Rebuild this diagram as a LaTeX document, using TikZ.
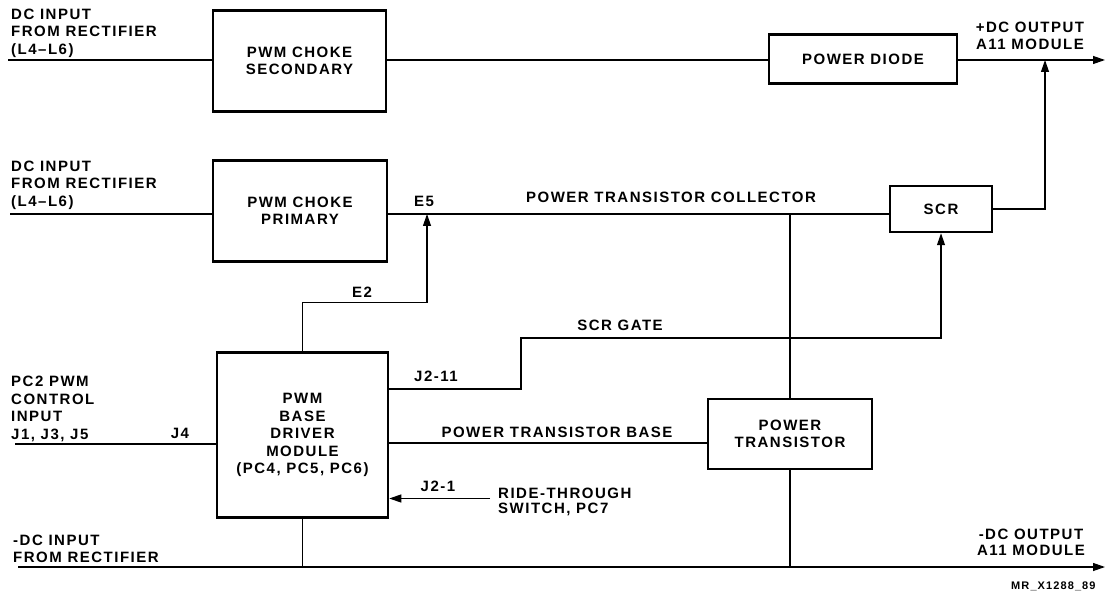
\documentclass[tikz,border=0pt]{standalone}
\usepackage{fontspec}
\setmainfont{Liberation Sans}[LetterSpace=10]
\usetikzlibrary{arrows.meta,calc}
\begin{document}
\begin{tikzpicture}[x=1pt,y=-1pt,
  every node/.style={font=\bfseries\fontsize{15}{17.5}\selectfont, inner sep=0pt},
  blk/.style={draw, line width=2.5pt, align=center},
  wire/.style={line width=1.2pt},
  arr/.style={-{Triangle[length=12pt,width=8pt]}}]
\useasboundingbox (0,0) rectangle (1106,593);
% blocks
\node[blk,minimum width=173pt,minimum height=101pt] (sec) at (299.5,61) {PWM CHOKE\\SECONDARY};
\node[blk,minimum width=188pt,minimum height=49pt] (diode) at (863,59) {POWER DIODE};
\node[blk,minimum width=174pt,minimum height=101pt] (prim) at (300,211) {PWM CHOKE\\PRIMARY};
\node[blk,minimum width=102pt,minimum height=46pt] (scr) at (941,209) {SCR};
\node[blk,minimum width=171pt,minimum height=165pt] (drv) at (302.5,435) {PWM\\BASE\\DRIVER\\MODULE\\(PC4, PC5, PC6)};
\node[blk,minimum width=164pt,minimum height=70pt] (ptr) at (790,434) {POWER\\TRANSISTOR};
% coordinates
\coordinate (in1) at (8,60);
\coordinate (out1) at (1105,60);
\coordinate (j1) at (1045,60);
\coordinate (in2) at (10,214);
\coordinate (e5) at (427,214);
\coordinate (g1) at (521,389);
\coordinate (g2) at (521,338);
\coordinate (bl) at (550,443);
\coordinate (in4) at (15,444);
\coordinate (rt) at (490,498.5);
\coordinate (in5) at (18,567);
\coordinate (out5) at (1105,567);
% connectors
\draw[wire] (in1) -- (in1 -| sec.west);
\draw[wire] (sec.east |- in1) -- (diode.west |- in1);
\draw[wire,arr] (diode.east |- in1) -- (out1);
\draw[wire,arr] (scr.east) -| (j1);
\draw[wire] (in2) -- (in2 -| prim.west);
\draw[wire] (prim.east |- in2) -- (scr.west |- in2);
\draw[wire,arr] (drv.north) -- ++(0,-48.5) -| (e5);
\draw[wire] (ptr.north) -- (ptr.north |- in2);
\draw[wire,arr] (g1 -| drv.east) -- (g1) -- (g2) -| (scr.south);
\draw[wire] (bl -| drv.east) -- (bl -| ptr.west);
\draw[wire] (in4) -- (in4 -| drv.west);
\draw[wire,arr] (rt) -- (rt -| drv.east);
\draw[wire,arr] (in5) -- (out5);
\draw[wire] (drv.south) -- (drv.south |- in5);
\draw[wire] (ptr.south) -- (ptr.south |- in5);
% labels
\node[anchor=west,align=left] (t1) at (11,33) {DC INPUT\\FROM RECTIFIER\\(L4–L6)};
\node[anchor=west,align=left] (t2) at (11,185) {DC INPUT\\FROM RECTIFIER\\(L4–L6)};
\node[align=center] (t3) at (1030,36) {+DC OUTPUT\\A11 MODULE};
\node (e5l) at (424,201) {E5};
\node (e2l) at (362,292) {E2};
\node (coll) at (671,197.5) {POWER TRANSISTOR COLLECTOR};
\node (gate) at (620,325) {SCR GATE};
\node (j211l) at (436,376) {J2-11};
\node (basel) at (557,432) {POWER TRANSISTOR BASE};
\node[anchor=west,align=left] (pc2) at (11,409) {PC2 PWM\\CONTROL\\INPUT\\J1, J3, J5};
\node (j4l) at (180,433) {J4};
\node (j21l) at (438,486.5) {J2-1};
\node[anchor=west,align=left,font=\bfseries\fontsize{15}{14.5}\selectfont] (ride) at (498,502) {RIDE-THROUGH\\SWITCH, PC7};
\node[anchor=west,align=left] (neg) at (13,549) {-DC INPUT\\FROM RECTIFIER};
\node[align=center,font=\bfseries\fontsize{15}{16}\selectfont] (negout) at (1031,542.6) {-DC OUTPUT\\A11 MODULE};
\node[anchor=west,font=\bfseries\fontsize{11}{13}\selectfont] (mr) at (1011,586) {MR\_X1288\_89};
\end{tikzpicture}
\end{document}
